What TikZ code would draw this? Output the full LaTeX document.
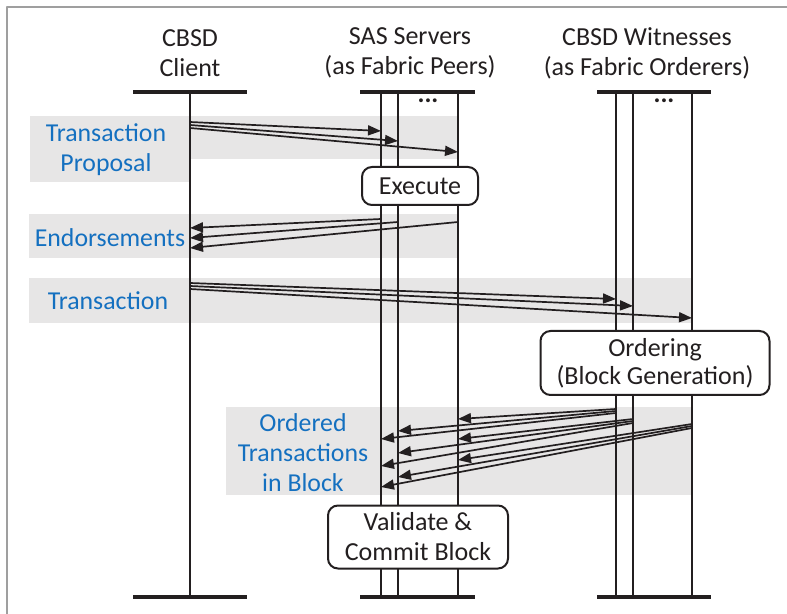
\documentclass[tikz,border=0pt]{standalone}
\usepackage{fontspec}
\setmainfont{Carlito}
\usetikzlibrary{arrows.meta}
\definecolor{txtgray}{RGB}{35,31,32}
\definecolor{lblblue}{RGB}{20,112,192}
\definecolor{bandgray}{RGB}{231,230,230}

\begin{document}
\begin{tikzpicture}[x=0.5pt, y=-0.5pt, line join=round,
  every node/.style={text=txtgray, font=\fontsize{13}{15}\selectfont, align=center},
  lifeline/.style={line width=1.4pt, txtgray},
  bar/.style={line width=1.9pt, txtgray},
  msg/.style={line width=0.85pt, txtgray, -{Triangle[length=6.5pt,width=5pt]}},
  band/.style={fill=bandgray, draw=none},
  lbl/.style={text=lblblue, font=\fontsize{12.9}{15}\selectfont},
  proc/.style={draw=txtgray, line width=1pt, fill=white, rounded corners=5pt, inner sep=0pt}]

  \useasboundingbox (0,0) rectangle (787,614);

  % frame
  \draw[gray!75, line width=0.9pt] (7,614) -- (7,7) -- (787,7);

  % lifeline positions
  \def\yTop{92}
  \def\yBot{597}
  \def\xC{190}

  % shaded bands
  \fill[band] (30,116) rectangle (190,182);
  \fill[band] (190,116) rectangle (458,159);
  \fill[band] (29,214) rectangle (458,258);
  \fill[band] (29,278) rectangle (692,323);
  \fill[band] (226,407) rectangle (692,495);

  % headers
  \node (hclient) at (190,53) {CBSD\\Client};
  \node (hsas) at (410,53) {SAS Servers\\(as Fabric Peers)};
  \node (hwit) at (647,53) {CBSD Witnesses\\(as Fabric Orderers)};

  % bars
  \foreach \xa/\xb/\n in {133/247/c, 360/475/s, 597/711/w} {
    \coordinate (top\n l) at (\xa,\yTop);
    \coordinate (top\n r) at (\xb,\yTop);
    \coordinate (bot\n l) at (\xa,\yBot);
    \coordinate (bot\n r) at (\xb,\yBot);
    \draw[bar] (top\n l) -- (top\n r);
    \draw[bar] (bot\n l) -- (bot\n r);
  }

  % lifelines
  \foreach \x/\n in {190/c, 381/s1, 398/s2, 458/s3, 616/w1, 633/w2, 692/w3} {
    \coordinate (\n a) at (\x,\yTop);
    \coordinate (\n b) at (\x,\yBot);
    \draw[lifeline] (\n a) -- (\n b);
  }
  \node (sdots) at (428,101) {\textbf{...}};
  \node (wdots) at (664,101) {\textbf{...}};

  % transaction proposal
  \foreach \ya/\xb/\yb [count=\i] in {122/381/131, 125/398/141, 128/458/152} {
    \coordinate (tp\i a) at (\xC,\ya);
    \coordinate (tp\i b) at (\xb,\yb);
    \draw[msg] (tp\i a) -- (tp\i b);
  }

  % endorsements
  \foreach \xa/\ya/\yb [count=\i] in {381/219/228, 398/222/238, 458/222/248} {
    \coordinate (en\i a) at (\xa,\ya);
    \coordinate (en\i b) at (\xC,\yb);
    \draw[msg] (en\i a) -- (en\i b);
  }

  % transaction
  \foreach \ya/\xb/\yb [count=\i] in {283/616/299, 286/633/306, 289/692/318} {
    \coordinate (tx\i a) at (\xC,\ya);
    \coordinate (tx\i b) at (\xb,\yb);
    \draw[msg] (tx\i a) -- (tx\i b);
  }

  % ordered transactions
  \foreach \xa/\ya/\xb/\yb [count=\i] in {
      616/409/458/419, 616/411/398/431, 616/413/381/439,
      633/419/458/439, 633/421/398/453, 633/423/381/466,
      692/424/458/460, 692/426/398/477, 692/428/381/487} {
    \coordinate (ot\i a) at (\xa,\ya);
    \coordinate (ot\i b) at (\xb,\yb);
    \draw[msg] (ot\i a) -- (ot\i b);
  }

  % labels
  \node[lbl] (lprop) at (106,150) {Transaction\\Proposal};
  \node[lbl] (lend) at (110,238) {Endorsements};
  \node[lbl] (ltx) at (108,301) {Transaction};
  \node[lbl] (lord) at (303,453) {Ordered\\Transactions\\in Block};

  % processing boxes
  \node[proc, minimum width=58pt, minimum height=19pt] (exec) at (420,186) {Execute};
  \node[proc, minimum width=114.5pt, minimum height=32pt] (order) at (655,363) {\raisebox{-1pt}{Ordering}\\(Block Generation)};
  \node[proc, minimum width=90pt, minimum height=31.5pt] (valid) at (418,537) {Validate \&\\Commit Block};

\end{tikzpicture}
\end{document}
